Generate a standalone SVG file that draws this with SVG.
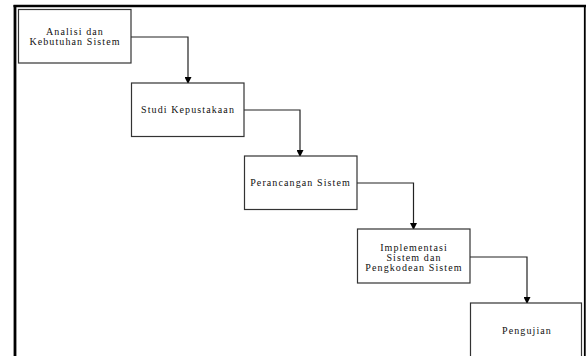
<svg xmlns="http://www.w3.org/2000/svg" width="586" height="356" viewBox="0 0 586 356">
<defs>
<marker id="ah" markerWidth="7" markerHeight="7" refX="6" refY="3.5" orient="auto" markerUnits="userSpaceOnUse">
<path d="M0,0 L7,3.5 L0,7 Z" fill="#000"/>
</marker>
<style>
.box{fill:#fff;stroke:#333;stroke-width:1.2}
.t{font-family:"Liberation Serif","Times New Roman",serif;font-size:10px;letter-spacing:1.1px;fill:#111;text-anchor:middle}
.c{fill:none;stroke:#222;stroke-width:1.2;marker-end:url(#ah)}
.frame{stroke:#000;fill:none}
</style>
</defs>
<rect width="586" height="356" fill="#fff"/>
<g id="frame">
<line class="frame" x1="13.5" y1="6" x2="586" y2="6" stroke-width="2.5"/>
<line class="frame" x1="15" y1="5" x2="15" y2="356" stroke-width="2.8"/>
<line class="frame" x1="584.8" y1="6" x2="584.8" y2="356" stroke-width="1.8"/>
</g>
<g id="connectors">
<path class="c" d="M131,37 H188 V83"/>
<path class="c" d="M244,110 H300 V156"/>
<path class="c" d="M357,183 H413.5 V229"/>
<path class="c" d="M470,257 H527 V303"/>
</g>
<g id="n1">
<rect class="box" x="18.5" y="9.5" width="112.5" height="53.5"/>
<text class="t" x="75" y="35.3">Analisi dan</text>
<text class="t" x="75" y="45">Kebutuhan Sistem</text>
</g>
<g id="n2">
<rect class="box" x="131.5" y="83" width="112.5" height="53.5"/>
<text class="t" x="188" y="113">Studi Kepustakaan</text>
</g>
<g id="n3">
<rect class="box" x="244.5" y="156" width="112.5" height="53.5"/>
<text class="t" x="300.5" y="186">Perancangan Sistem</text>
</g>
<g id="n4">
<rect class="box" x="357.5" y="229" width="112.5" height="54"/>
<text class="t" x="414" y="251.3">Implementasi</text>
<text class="t" x="414" y="261.3">Sistem dan</text>
<text class="t" x="414" y="271">Pengkodean Sistem</text>
</g>
<g id="n5">
<rect class="box" x="470.5" y="303" width="111" height="60"/>
<text class="t" x="527" y="334">Pengujian</text>
</g>
</svg>
